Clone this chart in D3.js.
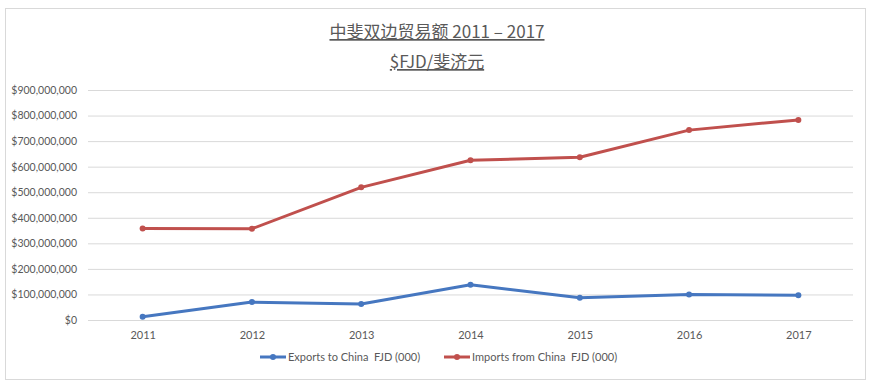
<!DOCTYPE html>
<html>
<head>
<meta charset="utf-8">
<script src="https://cdn.jsdelivr.net/npm/d3@7"></script>
<style>
  body { margin: 0; background: #fff; }
  text { font-family: Lato, "Noto Sans CJK SC", sans-serif; }
</style>
</head>
<body>
<div id="chart"></div>
<script>
// data
var years = ["2011", "2012", "2013", "2014", "2015", "2016", "2017"];
var exportsToChina = [13000000, 70000000, 63000000, 138000000, 87000000, 100000000, 97000000];
var importsFromChina = [358000000, 357000000, 519000000, 625000000, 637000000, 743000000, 783000000];
var seriesNames = ["Exports to China  FJD (000)", "Imports from China  FJD (000)"];
var seriesColors = ["#4677C0", "#C0504D"];
var yTicks = [0, 100000000, 200000000, 300000000, 400000000, 500000000, 600000000, 700000000, 800000000, 900000000];
var titleLines = ["中斐双边贸易额 2011 – 2017", "$FJD/斐济元"];

var W = 894, H = 386;
var margin = {top: 90, right: 41, bottom: 66, left: 88};

var svg = d3.select("#chart").append("svg")
    .attr("width", W)
    .attr("height", H);

// outer chart frame
svg.append("rect")
    .attr("x", 5.5).attr("y", 8.5)
    .attr("width", 860).attr("height", 371)
    .attr("fill", "#fff")
    .attr("stroke", "#D9D9D9");

var x = d3.scalePoint()
    .domain(years)
    .range([margin.left, W - margin.right])
    .padding(0.5);

var y = d3.scaleLinear()
    .domain([0, 900000000])
    .range([H - margin.bottom, margin.top]);

// title
svg.selectAll(".title").data(titleLines).enter().append("text")
    .attr("class", "title")
    .attr("x", 437)
    .attr("y", function(d, i) { return 38 + i * 30; })
    .attr("text-anchor", "middle")
    .attr("font-size", 17)
    .attr("fill", "#595959")
    .attr("text-decoration", "underline")
    .style("font-family", "'Noto Sans CJK SC', sans-serif")
    .text(function(d) { return d; });

// gridlines + y labels
var fmt = d3.format("$,");
var yAxis = d3.axisLeft(y)
    .tickValues(yTicks)
    .tickSize(-(W - margin.right - margin.left))
    .tickPadding(11)
    .tickFormat(function(d) { return fmt(d); });

var gy = svg.append("g")
    .attr("transform", "translate(" + margin.left + ",0)")
    .call(yAxis);
gy.select(".domain").remove();
gy.selectAll(".tick line").attr("stroke", "#D9D9D9");
gy.selectAll(".tick text")
    .attr("fill", "#595959")
    .attr("font-size", 10.5)
    .style("font-family", "Lato, sans-serif");

// x labels
var gx = svg.append("g")
    .attr("transform", "translate(0," + (H - margin.bottom) + ")")
    .call(d3.axisBottom(x).tickSize(0).tickPadding(11));
gx.select(".domain").remove();
gx.selectAll(".tick text")
    .attr("fill", "#595959")
    .attr("font-size", 11)
    .style("font-family", "Lato, sans-serif");

// lines
var allSeries = [exportsToChina, importsFromChina];
var line = d3.line()
    .x(function(d, i) { return x(years[i]); })
    .y(function(d) { return y(d); });

allSeries.forEach(function(s, k) {
  svg.append("path")
      .datum(s)
      .attr("fill", "none")
      .attr("stroke", seriesColors[k])
      .attr("stroke-width", 3)
      .attr("stroke-linejoin", "round")
      .attr("d", line);
  svg.selectAll(".dot" + k).data(s).enter().append("circle")
      .attr("cx", function(d, i) { return x(years[i]); })
      .attr("cy", function(d) { return y(d); })
      .attr("r", 3)
      .attr("fill", seriesColors[k]);
});

// legend
var legendX = [260, 444];
var legend = svg.selectAll(".legend").data(seriesNames).enter().append("g")
    .attr("transform", function(d, i) { return "translate(" + legendX[i] + ",357)"; });
legend.append("line")
    .attr("x1", 0).attr("x2", 26)
    .attr("stroke", function(d, i) { return seriesColors[i]; })
    .attr("stroke-width", 3);
legend.append("circle")
    .attr("cx", 13).attr("r", 3)
    .attr("fill", function(d, i) { return seriesColors[i]; });
legend.append("text")
    .attr("x", 28).attr("dy", "0.35em")
    .attr("font-size", 11)
    .attr("fill", "#595959")
    .attr("xml:space", "preserve")
    .text(function(d) { return d; });
</script>
</body>
</html>
